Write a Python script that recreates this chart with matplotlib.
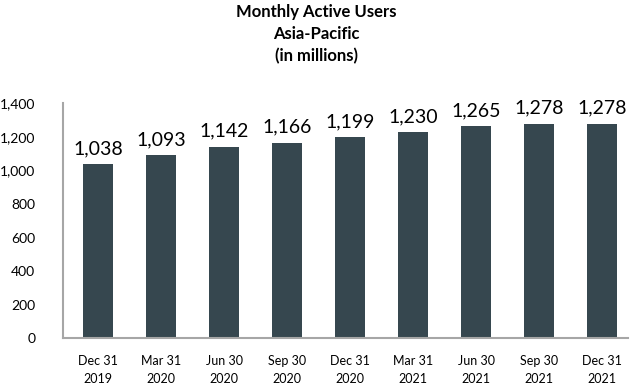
import matplotlib
matplotlib.use("Agg")
import matplotlib.pyplot as plt

# Monthly active users, Asia-Pacific (millions)
quarters = ["Dec 31\n2019", "Mar 31\n2020", "Jun 30\n2020", "Sep 30\n2020", "Dec 31\n2020",
            "Mar 31\n2021", "Jun 30\n2021", "Sep 30\n2021", "Dec 31\n2021"]
mau = [1038, 1093, 1142, 1166, 1199, 1230, 1265, 1278, 1278]
y_ticks = [0, 200, 400, 600, 800, 1000, 1200, 1400]

plt.rcParams['font.family'] = ['Lato', 'DejaVu Sans']

fig = plt.figure(figsize=(6.3, 3.9), dpi=100)
ax = fig.add_axes([0.1, 0.133, 0.897, 0.602])

x = list(range(len(mau)))
bars = ax.bar(x, mau, width=0.48, color='#36474F')

# value labels above each bar
for xi, v in zip(x, mau):
    ax.annotate(f"{v:,}", (xi, v), xytext=(0, 5), textcoords='offset points',
                ha='center', va='bottom', fontsize=14, color='black')

ax.set_xlim(-0.556, 8.41)
ax.set_ylim(0, 1400)
ax.set_yticks(y_ticks)
ax.set_yticklabels([f"{t:,}" for t in y_ticks], fontsize=10)
ax.set_xticks(x)
ax.set_xticklabels(quarters, fontsize=9, linespacing=1.6)
ax.tick_params(axis='y', length=0, pad=20)
ax.tick_params(axis='x', length=0, pad=12)

for side in ['top', 'right']:
    ax.spines[side].set_visible(False)
for side in ['left', 'bottom']:
    ax.spines[side].set_color('#A6A6A6')
    ax.spines[side].set_linewidth(1.5)

fig.text(0.502, 0.99, "Monthly Active Users\nAsia-Pacific\n(in millions)", ha='center', va='top',
         fontsize=12, fontweight='bold', linespacing=1.45)

fig.savefig("out.png", dpi=100)
